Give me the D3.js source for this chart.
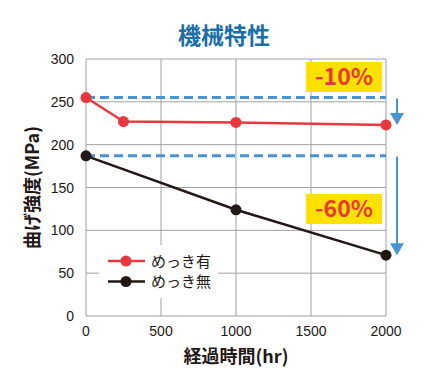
<!DOCTYPE html>
<html>
<head>
<meta charset="utf-8">
<script src="https://cdn.jsdelivr.net/npm/d3@7"></script>
<style>
  body { margin: 0; background: #fff; }
  text { font-family: "Noto Sans CJK JP", sans-serif; }
  .num { font-family: "Liberation Sans Narrow", "Liberation Sans", sans-serif; }
</style>
</head>
<body>
<div id="chart"></div>
<script>
var xTicks = [0, 500, 1000, 1500, 2000];
var yTicks = [0, 50, 100, 150, 200, 250, 300];

var platedHours = [0, 250, 1000, 2000];
var platedValues = [255, 227, 226, 223];
var bareHours = [0, 1000, 2000];
var bareValues = [187, 124, 71];

var seriesNames = ["めっき有", "めっき無"];
var changeLabels = ["-10%", "-60%"];

var w = 429, h = 376;
var pLeft = 86, pRight = 386, pTop = 59, pBottom = 316;

var red = "#e8383d", black = "#231815", blue = "#4a93d2";

var x = d3.scaleLinear().domain([0, 2000]).range([pLeft, pRight]);
var y = d3.scaleLinear().domain([0, 300]).range([pBottom, pTop]);

var svg = d3.select("#chart").append("svg")
    .attr("width", w)
    .attr("height", h);

// grid
svg.selectAll("line.gx")
    .data(xTicks)
    .enter().append("line")
    .attr("x1", function(d) { return x(d); })
    .attr("x2", function(d) { return x(d); })
    .attr("y1", pTop).attr("y2", pBottom)
    .attr("stroke", "#a0a0a0").attr("stroke-width", 1);

svg.selectAll("line.gy")
    .data(yTicks)
    .enter().append("line")
    .attr("x1", pLeft).attr("x2", pRight)
    .attr("y1", function(d) { return y(d); })
    .attr("y2", function(d) { return y(d); })
    .attr("stroke", "#a0a0a0").attr("stroke-width", 1);

// tick labels
svg.selectAll("text.yt")
    .data(yTicks)
    .enter().append("text")
    .attr("class", "num")
    .attr("x", 74)
    .attr("y", function(d) { return y(d) + 5; })
    .attr("text-anchor", "end")
    .attr("font-size", 14)
    .attr("fill", black)
    .text(function(d) { return d; });

svg.selectAll("text.xt")
    .data(xTicks)
    .enter().append("text")
    .attr("class", "num")
    .attr("x", function(d) { return x(d); })
    .attr("y", 336)
    .attr("text-anchor", "middle")
    .attr("font-size", 14)
    .attr("fill", black)
    .text(function(d) { return d; });

// titles
svg.append("text")
    .attr("x", 224).attr("y", 44)
    .attr("text-anchor", "middle")
    .attr("font-size", 23)
    .attr("font-weight", "bold")
    .attr("fill", "#1b6fa8")
    .text("機械特性");

svg.append("text")
    .attr("x", 236).attr("y", 363)
    .attr("text-anchor", "middle")
    .attr("font-size", 18)
    .attr("font-weight", "bold")
    .attr("fill", black)
    .text("経過時間(hr)");

svg.append("text")
    .attr("transform", "translate(39," + ((pTop + pBottom) / 2) + ") rotate(-90)")
    .attr("text-anchor", "middle")
    .attr("font-size", 18)
    .attr("font-weight", "bold")
    .attr("fill", black)
    .text("曲げ強度(MPa)");

// legend box covering grid
svg.append("rect")
    .attr("x", 99).attr("y", 245)
    .attr("width", 119).attr("height", 53)
    .attr("fill", "#fff");

// dashed reference lines
var refs = [platedValues[0], bareValues[0]];
svg.selectAll("line.ref")
    .data(refs)
    .enter().append("line")
    .attr("x1", x(0)).attr("x2", x(2000))
    .attr("y1", function(d) { return y(d); })
    .attr("y2", function(d) { return y(d); })
    .attr("stroke", blue)
    .attr("stroke-width", 3)
    .attr("stroke-dasharray", "9,5");

// series
var line = d3.line()
    .x(function(d) { return x(d[0]); })
    .y(function(d) { return y(d[1]); });

var series = [
    { color: red, pts: d3.zip(platedHours, platedValues) },
    { color: black, pts: d3.zip(bareHours, bareValues) }
];

series.forEach(function(s) {
    svg.append("path")
        .attr("d", line(s.pts))
        .attr("fill", "none")
        .attr("stroke", s.color)
        .attr("stroke-width", 2.5);
    svg.selectAll(null)
        .data(s.pts)
        .enter().append("circle")
        .attr("cx", function(d) { return x(d[0]); })
        .attr("cy", function(d) { return y(d[1]); })
        .attr("r", 5.5)
        .attr("fill", s.color);
});

// arrows
var arrowEnds = [platedValues[platedValues.length - 1], bareValues[bareValues.length - 1]];
var ax = 397;
refs.forEach(function(v, i) {
    var y0 = y(v) + 1, y1 = y(arrowEnds[i]);
    svg.append("line")
        .attr("x1", ax).attr("x2", ax)
        .attr("y1", y0).attr("y2", y1 - 8)
        .attr("stroke", blue).attr("stroke-width", 2);
    svg.append("path")
        .attr("d", "M" + (ax - 7) + "," + (y1 - 12) + "L" + (ax + 7) + "," + (y1 - 12) + "L" + ax + "," + y1 + "Z")
        .attr("fill", blue);
});

// percentage labels
var labelTops = [62, 194];
changeLabels.forEach(function(t, i) {
    svg.append("rect")
        .attr("x", 306).attr("y", labelTops[i])
        .attr("width", 76).attr("height", 30)
        .attr("fill", "#ffe100");
    svg.append("text")
        .attr("x", 344).attr("y", labelTops[i] + 23)
        .attr("text-anchor", "middle")
        .attr("font-family", "'Liberation Sans', sans-serif")
        .attr("font-size", 23)
        .attr("font-weight", "bold")
        .attr("fill", red)
        .text(t);
});

// legend
var legendY = [261, 281.5];
seriesNames.forEach(function(n, i) {
    var c = series[i].color;
    svg.append("line")
        .attr("x1", 108).attr("x2", 145)
        .attr("y1", legendY[i]).attr("y2", legendY[i])
        .attr("stroke", c).attr("stroke-width", 2.5);
    svg.append("circle")
        .attr("cx", 126).attr("cy", legendY[i])
        .attr("r", 5.5).attr("fill", c);
    svg.append("text")
        .attr("x", 151).attr("y", legendY[i] + 5.5)
        .attr("font-size", 15)
        .attr("fill", black)
        .text(n);
});
</script>
</body>
</html>
